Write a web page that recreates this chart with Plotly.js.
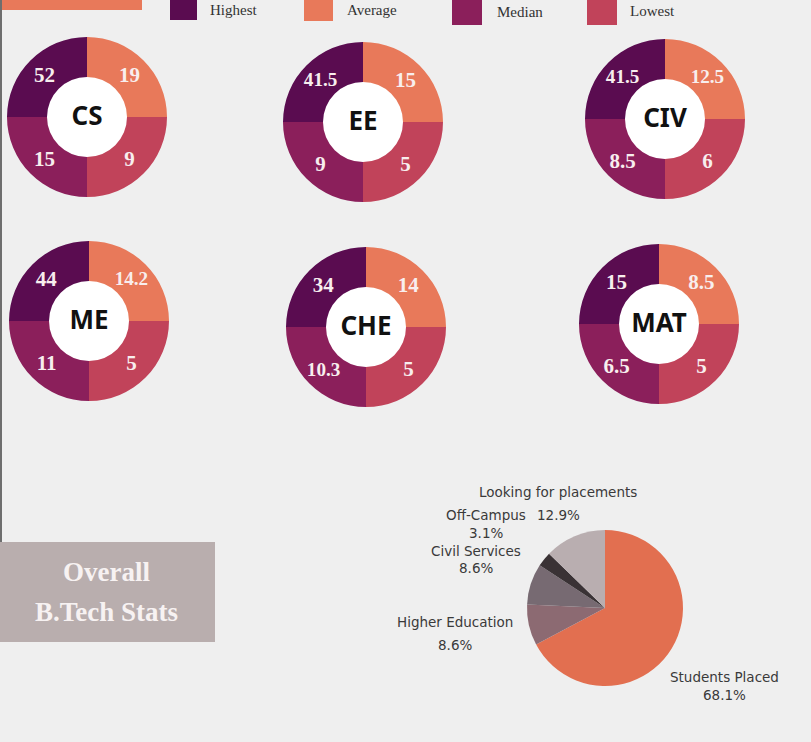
<!DOCTYPE html>
<html><head><meta charset="utf-8">
<script src="https://cdn.plot.ly/plotly-3.0.1.min.js"></script>
<style>html,body{margin:0;padding:0;background:#efefef;}#chart{width:811px;height:742px;}</style>
</head><body><div id="chart"></div>
<script>
// ---------- data ----------
const departments = ['CS', 'EE', 'CIV', 'ME', 'CHE', 'MAT'];
const highest = [52, 41.5, 41.5, 44, 34, 15];
const average = [19, 15, 12.5, 14.2, 14, 8.5];
const median  = [15, 9, 8.5, 11, 10.3, 6.5];
const lowest  = [9, 5, 6, 5, 5, 5];
const seriesNames = ['Highest', 'Average', 'Median', 'Lowest'];

const outcomeLabels = ['Students Placed', 'Higher Education', 'Civil Services', 'Off-Campus', 'Looking for placements'];
const outcomeShares = [68.1, 8.6, 8.6, 3.1, 12.9];

const panelTitle = ['Overall', 'B.Tech Stats'];

// ---------- layout / style ----------
const W = 811, H = 742;
const px = x => x / W;
const py = y => 1 - y / H;
const donutCenters = [[87,117],[363,122],[665,119],[89,321],[366,327],[659,324]];
const donutR = 80, holeFrac = 0.5;
const seriesColors = {Highest:'#5a0c50', Average:'#e8795a', Median:'#8b1f5b', Lowest:'#c1435a'};
// quadrant order, clockwise from 9 o'clock
const sliceOrder = ['Highest', 'Average', 'Lowest', 'Median'];
const seriesValues = {Highest: highest, Average: average, Median: median, Lowest: lowest};

const outcomeColors = ['#e26f50', '#8c6a72', '#776a72', '#3a3235', '#b9aeb0'];
const pieCenter = [605, 608], pieR = 78;

const traces = [];
const shapes = [];
const annotations = [];

departments.forEach((d, i) => {
  const [cx, cy] = donutCenters[i];
  traces.push({
    type: 'pie',
    labels: sliceOrder,
    values: sliceOrder.map(() => 1), // equal quadrants, as drawn
    text: sliceOrder.map(s => String(seriesValues[s][i])),
    textinfo: 'text',
    textposition: 'inside',
    insidetextorientation: 'horizontal',
    textfont: {family: 'Liberation Serif', size: 21, weight: 700, color: '#f8eeee'},
    marker: {colors: sliceOrder.map(s => seriesColors[s]), line: {width: 0}},
    hole: holeFrac,
    sort: false,
    direction: 'clockwise',
    rotation: -90,
    showlegend: false,
    hoverinfo: 'skip',
    title: {text: d, position: 'middle center', font: {family: 'Noto Sans', size: 26, weight: 700, color: '#111'}},
    domain: {x: [px(cx - donutR), px(cx + donutR)], y: [py(cy + donutR), py(cy - donutR)]}
  });
  const hr = donutR * holeFrac + 2;
  shapes.push({type: 'circle', xref: 'paper', yref: 'paper', layer: 'below',
    x0: px(cx - hr), x1: px(cx + hr), y0: py(cy + hr), y1: py(cy - hr),
    fillcolor: '#ffffff', line: {width: 0}});
});

traces.push({
  type: 'pie',
  labels: outcomeLabels,
  values: outcomeShares,
  textinfo: 'none',
  marker: {colors: outcomeColors, line: {width: 0}},
  sort: false,
  direction: 'clockwise',
  rotation: 0,
  showlegend: false,
  hoverinfo: 'skip',
  domain: {x: [px(pieCenter[0] - pieR), px(pieCenter[0] + pieR)], y: [py(pieCenter[1] + pieR), py(pieCenter[1] - pieR)]}
});

// pie labels (name line, percentage line)
const outcomeLabelPos = [
  [[724, 677], [724, 695]],
  [[455, 622], [455, 645]],
  [[476, 551], [476, 568]],
  [[486, 515], [486, 533]],
  [[558, 492], [558, 515]]
];
outcomeLabels.forEach((lab, i) => {
  const [p1, p2] = outcomeLabelPos[i];
  const f = {family: 'DejaVu Sans', size: 13.5, color: '#3a3a3a'};
  annotations.push({xref:'paper', yref:'paper', x: px(p1[0]), y: py(p1[1]), xanchor:'center', yanchor:'middle', showarrow:false, text: lab, font: f});
  annotations.push({xref:'paper', yref:'paper', x: px(p2[0]), y: py(p2[1]), xanchor:'center', yanchor:'middle', showarrow:false, text: outcomeShares[i].toFixed(1) + '%', font: f});
});

// legend (manual)
const legendBoxes = {Highest:[170,-2,197,20,208,10], Average:[304,-2,333,21,345,10], Median:[452,0,482,25,495,12], Lowest:[587,0,617,25,628,11]};
seriesNames.forEach(s => {
  const [x0, y0, x1, y1, tx, ty] = legendBoxes[s];
  shapes.push({type:'rect', xref:'paper', yref:'paper', x0: px(x0), x1: px(x1), y0: py(y1), y1: py(y0), fillcolor: seriesColors[s], line:{width:0}});
  annotations.push({xref:'paper', yref:'paper', x: px(tx), y: py(ty), xanchor:'left', yanchor:'middle', showarrow:false, text: s,
    font: {family:'Liberation Serif', size: 15, color:'#333'}});
});

// decorations
shapes.push({type:'rect', xref:'paper', yref:'paper', x0: 0, x1: px(142), y0: py(10), y1: 1, fillcolor:'#e8795a', line:{width:0}});
shapes.push({type:'line', xref:'paper', yref:'paper', x0: px(1), x1: px(1), y0: py(542), y1: 1, line:{color:'#6e6e6e', width:2}});
shapes.push({type:'rect', xref:'paper', yref:'paper', x0: 0, x1: px(215), y0: py(642), y1: py(542), fillcolor:'#b9aeae', line:{width:0}});
annotations.push({xref:'paper', yref:'paper', x: px(107), y: py(572), xanchor:'center', yanchor:'middle', showarrow:false, text: panelTitle[0],
  font: {family:'Liberation Serif', size: 27, weight: 700, color:'#f7f2f2'}});
annotations.push({xref:'paper', yref:'paper', x: px(107), y: py(612), xanchor:'center', yanchor:'middle', showarrow:false, text: panelTitle[1],
  font: {family:'Liberation Serif', size: 27, weight: 700, color:'#f7f2f2'}});

const layout = {
  width: W, height: H,
  margin: {l: 0, r: 0, t: 0, b: 0},
  paper_bgcolor: '#efefef',
  plot_bgcolor: '#efefef',
  showlegend: false,
  shapes: shapes,
  annotations: annotations
};

Plotly.newPlot('chart', traces, layout, {displayModeBar: false, staticPlot: true});
</script>
</body></html>
